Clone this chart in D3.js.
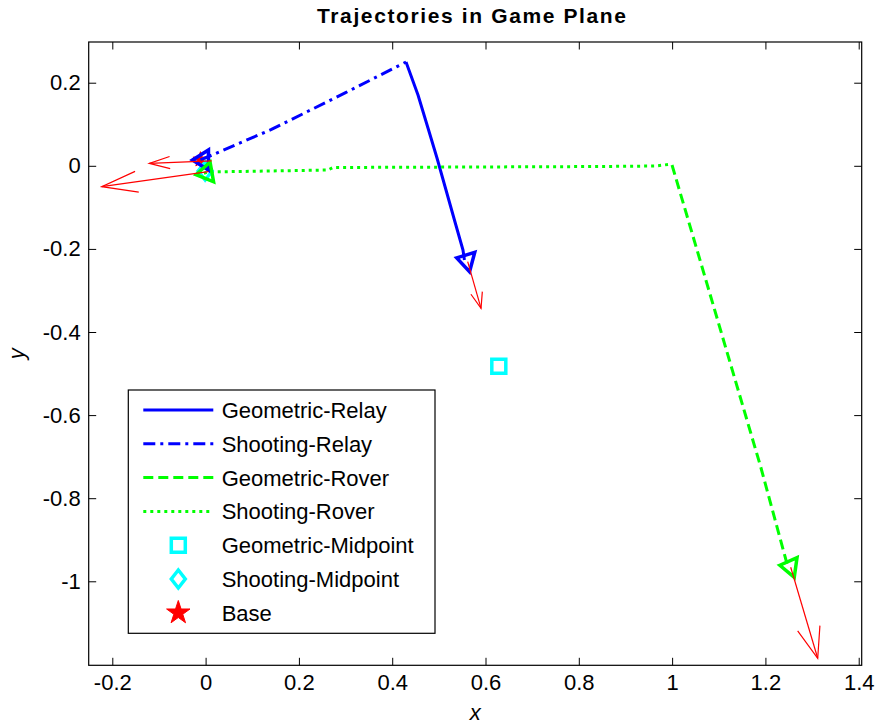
<!DOCTYPE html>
<html>
<head>
<meta charset="utf-8">
<script src="https://cdn.jsdelivr.net/npm/d3@7"></script>
<style>
  html, body { margin: 0; padding: 0; background: #fff; }
  svg { display: block; font-family: "Liberation Sans", Arial, Helvetica, sans-serif; }
</style>
</head>
<body>
<svg id="chart" width="878" height="727"></svg>
<script>
// ---- data ----
const xTicks = [-0.2, 0, 0.2, 0.4, 0.6, 0.8, 1, 1.2, 1.4];
const yTicks = [-1, -0.8, -0.6, -0.4, -0.2, 0, 0.2];

const seriesNames = ["Geometric-Relay", "Shooting-Relay", "Geometric-Rover", "Shooting-Rover",
                     "Geometric-Midpoint", "Shooting-Midpoint", "Base"];

const geomRelayX = [0.4296, 0.4553, 0.4767, 0.4960, 0.5153, 0.5346, 0.5517, 0.5548];
const geomRelayY = [0.2498, 0.1704, 0.0910, 0.0188, -0.0582, -0.1352, -0.2026, -0.2267];

const shootRelayX = [-0.011, 0.14, 0.30, 0.4296];
const shootRelayY = [0.014, 0.087, 0.176, 0.2498];

const geomRoverX = [0.9998, 1.06, 1.13, 1.19, 1.2478];
const geomRoverY = [0.0019, -0.2276, -0.4955, -0.725, -0.9641];

const shootRoverX = [-0.0036, 0.0051, 0.2624, 0.2731, 0.8455, 0.9634, 0.9913, 0.9998];
const shootRoverY = [-0.018, -0.0149, -0.0101, -0.0041, -0.0017, -0.0005, 0.0031, 0.0019];

const geomMidpoint = [0.6285, -0.4823];
const shootMidpoint = [-0.001, -0.0125];
const basePoint = [-0.011, 0.015];

// agent positions (start and end of each trajectory) with small heading tilt in degrees
const agentX    = [-0.011, 0.5548, -0.0036, 1.2478];
const agentY    = [0.014, -0.2267, -0.018, -0.9641];
const agentTilt = [0, 15, -10, 8];
const agentKind = ["relay", "relay", "rover", "rover"];

// heading vectors (quiver): origin and components
const quiverX = [0.013, 0.5618, 0.006, 1.2542];
const quiverY = [0.012, -0.2308, -0.014, -0.9663];
const quiverU = [-0.1337, 0.0286, -0.2287, 0.0579];
const quiverV = [-0.006, -0.1122, -0.0363, -0.219];

// ---- layout ----
const svg = d3.select("#chart");
const L = 88.7, R = 861.7, T = 42, B = 665.3;
const x = d3.scaleLinear().domain([-0.2506, 1.4064]).range([L, R]);
const y = d3.scaleLinear().domain([-1.2022, 0.298]).range([B, T]);

const BLUE = "#0000ff", GREEN = "#00ff00", CYAN = "#00ffff", RED = "#ff0000";
const fmt = d => d === 0 ? "0" : String(+d.toFixed(1));

svg.append("defs").append("clipPath").attr("id", "plotclip")
  .append("rect").attr("x", L).attr("y", T).attr("width", R - L).attr("height", B - T);

// ---- axes (box with inward ticks on all four sides) ----
const tick = 7.5;
function styleAxis(g) {
  g.select(".domain").remove();
  g.selectAll(".tick line").attr("stroke", "#000").attr("stroke-width", 1);
  g.selectAll(".tick text").attr("fill", "#000").attr("font-size", 22)
    .attr("font-family", "Liberation Sans, Arial, sans-serif");
}
svg.append("g").attr("transform", `translate(0,${B})`)
  .call(d3.axisBottom(x).tickValues(xTicks).tickFormat(fmt).tickSizeInner(-tick).tickSizeOuter(0).tickPadding(9))
  .call(styleAxis);
svg.append("g").attr("transform", `translate(0,${T})`)
  .call(d3.axisTop(x).tickValues(xTicks).tickFormat("").tickSizeInner(-tick).tickSizeOuter(0))
  .call(styleAxis);
svg.append("g").attr("transform", `translate(${L},0)`)
  .call(d3.axisLeft(y).tickValues(yTicks).tickFormat(fmt).tickSizeInner(-tick).tickSizeOuter(0).tickPadding(8))
  .call(styleAxis);
svg.append("g").attr("transform", `translate(${R},0)`)
  .call(d3.axisRight(y).tickValues(yTicks).tickFormat("").tickSizeInner(-tick).tickSizeOuter(0))
  .call(styleAxis);

svg.append("rect").attr("x", L).attr("y", T).attr("width", R - L).attr("height", B - T)
  .attr("fill", "none").attr("stroke", "#000").attr("stroke-width", 1.2);

// ---- titles ----
svg.append("text").attr("x", 471.5).attr("y", 23).attr("text-anchor", "middle")
  .attr("font-size", 21).attr("font-weight", "bold")
  .attr("textLength", 309).attr("lengthAdjust", "spacing")
  .text("Trajectories in Game Plane");
svg.append("text").attr("x", (L + R) / 2).attr("y", 720).attr("text-anchor", "middle")
  .attr("font-size", 22).attr("font-style", "italic").text("x");
svg.append("text").attr("transform", `translate(24,${(T + B) / 2}) rotate(-90)`)
  .attr("text-anchor", "middle").attr("font-size", 22).attr("font-style", "italic").text("y");

// ---- plot content ----
const plot = svg.append("g").attr("clip-path", "url(#plotclip)");
const line = d3.line().x(d => x(d[0])).y(d => y(d[1]));
const zip = (xs, ys) => xs.map((v, i) => [v, ys[i]]);

const styles = {
  geomRelay:  { color: BLUE,  dash: null,        width: 3 },
  shootRelay: { color: BLUE,  dash: "12,5,3,5",  width: 3 },
  geomRover:  { color: GREEN, dash: "10,5",      width: 3 },
  shootRover: { color: GREEN, dash: "3,4",       width: 3 }
};

// marker shapes
const squarePath = "M-7,-7H7V7H-7Z";
const diamondPath = "M0,-9L7,0L0,9L-7,0Z";
const triPath = "M-8,0L8,-10L8,10Z";
const starLegend = d3.symbol(d3.symbolStar, 170)();
const starPlot = d3.symbol(d3.symbolStar, 70)();

// base station sits underneath the agents' start markers
plot.append("path").attr("d", starPlot)
  .attr("transform", `translate(${x(basePoint[0])},${y(basePoint[1])})`)
  .attr("fill", RED).attr("stroke", RED).attr("stroke-width", 1);

const lineSeries = [
  { key: "geomRelay",  pts: zip(geomRelayX, geomRelayY) },
  { key: "shootRelay", pts: zip(shootRelayX, shootRelayY) },
  { key: "geomRover",  pts: zip(geomRoverX, geomRoverY) },
  { key: "shootRover", pts: zip(shootRoverX, shootRoverY) }
];
lineSeries.forEach(s => {
  const st = styles[s.key];
  plot.append("path").attr("d", line(s.pts)).attr("fill", "none")
    .attr("stroke", st.color).attr("stroke-width", st.width)
    .attr("stroke-dasharray", st.dash).attr("stroke-linejoin", "round");
});

plot.append("path").attr("d", squarePath)
  .attr("transform", `translate(${x(geomMidpoint[0])},${y(geomMidpoint[1])})`)
  .attr("fill", "none").attr("stroke", CYAN).attr("stroke-width", 3.5);
plot.append("path").attr("d", diamondPath)
  .attr("transform", `translate(${x(shootMidpoint[0])},${y(shootMidpoint[1])})`)
  .attr("fill", "none").attr("stroke", CYAN).attr("stroke-width", 3.5);

agentX.forEach((ax, i) => {
  plot.append("path").attr("d", triPath)
    .attr("transform", `translate(${x(ax)},${y(agentY[i])}) rotate(${agentTilt[i]})`)
    .attr("fill", "none").attr("stroke", agentKind[i] === "relay" ? BLUE : GREEN)
    .attr("stroke-width", 3.5).attr("stroke-linejoin", "miter");
});

// heading arrows, quiver-style heads (alpha = beta = 0.33)
const alpha = 0.33, beta = 0.33;
quiverX.forEach((qx, i) => {
  const qy = quiverY[i], u = quiverU[i], v = quiverV[i];
  const tx = qx + u, ty = qy + v;
  plot.append("path").attr("d", line([[qx, qy], [tx, ty]]))
    .attr("fill", "none").attr("stroke", RED).attr("stroke-width", 1.2);
  const head = [
    [tx - alpha * (u + beta * v), ty - alpha * (v - beta * u)],
    [tx, ty],
    [tx - alpha * (u - beta * v), ty - alpha * (v + beta * u)]
  ];
  plot.append("path").attr("d", line(head))
    .attr("fill", "none").attr("stroke", RED).attr("stroke-width", 1.2);
});

// ---- legend ----
const lg = svg.append("g");
lg.append("rect").attr("x", 128.3).attr("y", 390).attr("width", 306.7).attr("height", 243.3)
  .attr("fill", "#fff").attr("stroke", "#000").attr("stroke-width", 1.2);
const rowY = i => 410 + i * 33.8;
const legendItems = [
  { type: "line", st: styles.geomRelay },
  { type: "line", st: styles.shootRelay },
  { type: "line", st: styles.geomRover },
  { type: "line", st: styles.shootRover },
  { type: "square" },
  { type: "diamond" },
  { type: "star" }
];
legendItems.forEach((it, i) => {
  const cy = rowY(i);
  if (it.type === "line") {
    lg.append("line").attr("x1", 143.3).attr("x2", 213.3).attr("y1", cy).attr("y2", cy)
      .attr("stroke", it.st.color).attr("stroke-width", it.st.width)
      .attr("stroke-dasharray", it.st.dash);
  } else if (it.type === "square") {
    lg.append("path").attr("d", squarePath).attr("transform", `translate(178.3,${cy})`)
      .attr("fill", "none").attr("stroke", CYAN).attr("stroke-width", 3.5);
  } else if (it.type === "diamond") {
    lg.append("path").attr("d", diamondPath).attr("transform", `translate(178.3,${cy})`)
      .attr("fill", "none").attr("stroke", CYAN).attr("stroke-width", 3.5);
  } else {
    lg.append("path").attr("d", starLegend).attr("transform", `translate(178.3,${cy})`)
      .attr("fill", RED).attr("stroke", RED).attr("stroke-width", 1);
  }
  lg.append("text").attr("x", 221.7).attr("y", cy).attr("dy", "0.36em")
    .attr("font-size", 22).attr("fill", "#000").text(seriesNames[i]);
});
</script>
</body>
</html>
